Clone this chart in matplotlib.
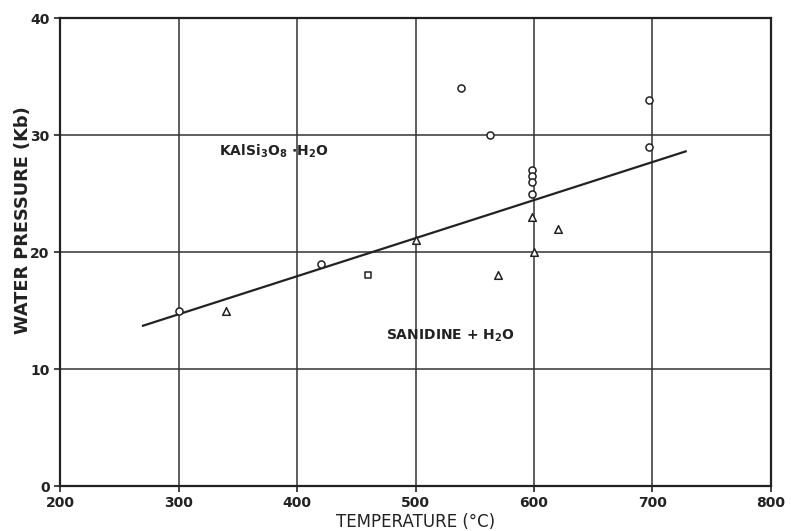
import matplotlib
matplotlib.use("Agg")
import matplotlib.pyplot as plt

plt.rcParams["mathtext.default"] = "bf"

circle_T = [300, 420, 538, 563, 598, 598, 598, 598, 697, 697]
circle_P = [15, 19, 34, 30, 27, 26.5, 26, 25, 33, 29]
tri_T = [340, 500, 570, 598, 600, 620]
tri_P = [15, 21, 18, 23, 20, 22]
sq_T = [460]
sq_P = [18]
line_T = [270, 728]
line_P = [13.7, 28.6]
xticks = [200, 300, 400, 500, 600, 700, 800]
yticks = [0, 10, 20, 30, 40]

fig = plt.figure(figsize=(7.91, 5.31), dpi=100)
ax = fig.add_axes([0.0759, 0.0847, 0.8988, 0.8814])
ax.set_xlim(200, 800)
ax.set_ylim(0, 40)
ax.set_xticks(xticks)
ax.set_yticks(yticks)
ax.grid(True, color="#333333", linewidth=1.1)
ax.set_axisbelow(True)
for s in ax.spines.values():
    s.set_linewidth(1.6)
    s.set_color("#222222")
ax.tick_params(direction="out", length=4, width=1.2, labelsize=10, colors="#222222")
for lab in ax.get_xticklabels() + ax.get_yticklabels():
    lab.set_fontweight("bold")

ax.plot(line_T, line_P, color="#222222", linewidth=1.6, zorder=3)
ax.scatter(circle_T, circle_P, marker="o", s=26, facecolors="white", edgecolors="#222222", linewidths=1.1, zorder=4)
ax.scatter(tri_T, tri_P, marker="^", s=30, facecolors="white", edgecolors="#222222", linewidths=1.1, zorder=4)
ax.scatter(sq_T, sq_P, marker="s", s=24, facecolors="white", edgecolors="#222222", linewidths=1.1, zorder=4)

ax.text(334, 28.6, "KAlSi$_3$O$_8$ $\\cdot$H$_2$O", fontsize=10, fontweight="bold", color="#222222", va="center")
ax.text(475, 12.8, "SANIDINE + H$_2$O", fontsize=10, fontweight="bold", color="#222222", va="center")

ax.set_xlabel("TEMPERATURE (°C)", fontsize=12, color="#222222", labelpad=2)
ax.set_ylabel("WATER PRESSURE (Kb)", fontsize=12.8, fontweight="bold", color="#222222")
ax.yaxis.set_label_coords(-0.040, 0.568)

fig.savefig("out.png", dpi=100)
